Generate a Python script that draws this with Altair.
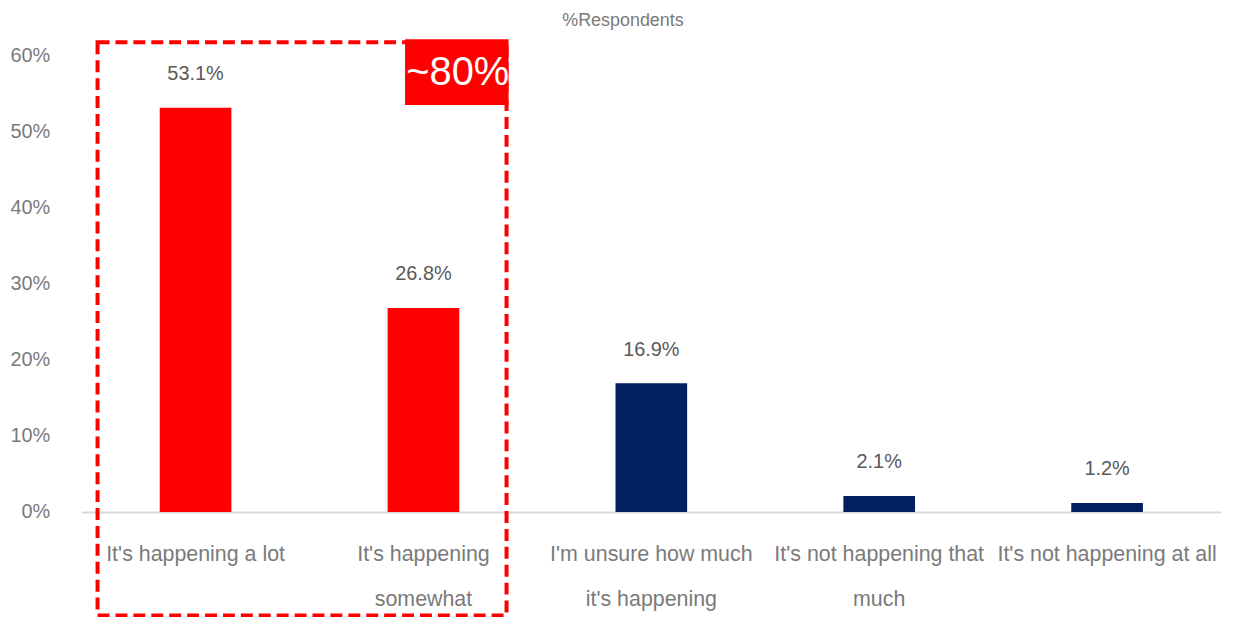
import altair as alt
import pandas as pd

categories = [
    "It's happening a lot",
    "It's happening\nsomewhat",
    "I'm unsure how much\nit's happening",
    "It's not happening that\nmuch",
    "It's not happening at all",
]
values = [0.531, 0.268, 0.169, 0.021, 0.012]
colors = ["#FF0000", "#FF0000", "#002060", "#002060", "#002060"]
value_labels = ["53.1%", "26.8%", "16.9%", "2.1%", "1.2%"]

df = pd.DataFrame({"cat": categories, "val": values, "col": colors, "lab": value_labels})

FONT = "Liberation Sans"
W, H = 1145, 459

x = alt.X(
    "cat:N",
    sort=categories,
    scale=alt.Scale(paddingInner=0, paddingOuter=0),
    axis=alt.Axis(
        title=None,
        labelAngle=0,
        labelExpr="split(datum.label, '\\n')",
        labelFont=FONT,
        labelFontSize=21.5,
        labelColor="#7a7a7a",
        labelLineHeight=45,
        labelPadding=32,
        labelLimit=300,
        ticks=False,
        domainColor="#d9d9d9",
        domainWidth=2,
    ),
)
y = alt.Y(
    "val:Q",
    scale=alt.Scale(domain=[0, 0.6], nice=False),
    axis=alt.Axis(
        title=None,
        format=".0%",
        values=[0, 0.1, 0.2, 0.3, 0.4, 0.5, 0.6],
        labelFont=FONT,
        labelFontSize=20,
        labelColor="#7a7a7a",
        labelPadding=32,
        ticks=False,
        domain=False,
        grid=False,
    ),
)

base = alt.Chart(df)

bars = base.mark_bar(width=72).encode(x=x, y=y, color=alt.Color("col:N", scale=None, legend=None))

labels = base.mark_text(
    font=FONT, fontSize=20, color="#595959", baseline="middle", dy=-34
).encode(x=x, y=y, text="lab:N")

title_df = pd.DataFrame({"t": ["%Respondents"]})
title = alt.Chart(title_df).mark_text(
    font=FONT, fontSize=18, color="#7a7a7a", baseline="middle", align="center"
).encode(x=alt.value(544), y=alt.value(-34), text="t:N")

box_df = pd.DataFrame({"t": ["~80%"]})
dash_rect = alt.Chart(box_df).mark_rect(
    fill=None, stroke="#FF0000", strokeWidth=4, strokeDash=[12, 6], clip=False
).encode(x=alt.value(16), x2=alt.value(427), y=alt.value(-13), y2=alt.value(563))

red_box = alt.Chart(box_df).mark_rect(fill="#FF0000", clip=False).encode(
    x=alt.value(325), x2=alt.value(429), y=alt.value(-16), y2=alt.value(50)
)
red_text = alt.Chart(box_df).mark_text(
    font=FONT, fontSize=40, color="white", baseline="middle", align="center"
).encode(x=alt.value(378), y=alt.value(18), text="t:N")

chart = (
    alt.layer(bars, labels, title, dash_rect, red_box, red_text)
    .properties(
        width=W,
        height=H,
        background="white",
        autosize=alt.AutoSizeParams(type="none"),
        padding={"left": 74, "top": 46, "right": 5, "bottom": 104},
    )
    .configure_view(stroke="transparent", strokeWidth=0)
)

chart.save("out.html", embed_options={"renderer": "svg", "actions": False})
